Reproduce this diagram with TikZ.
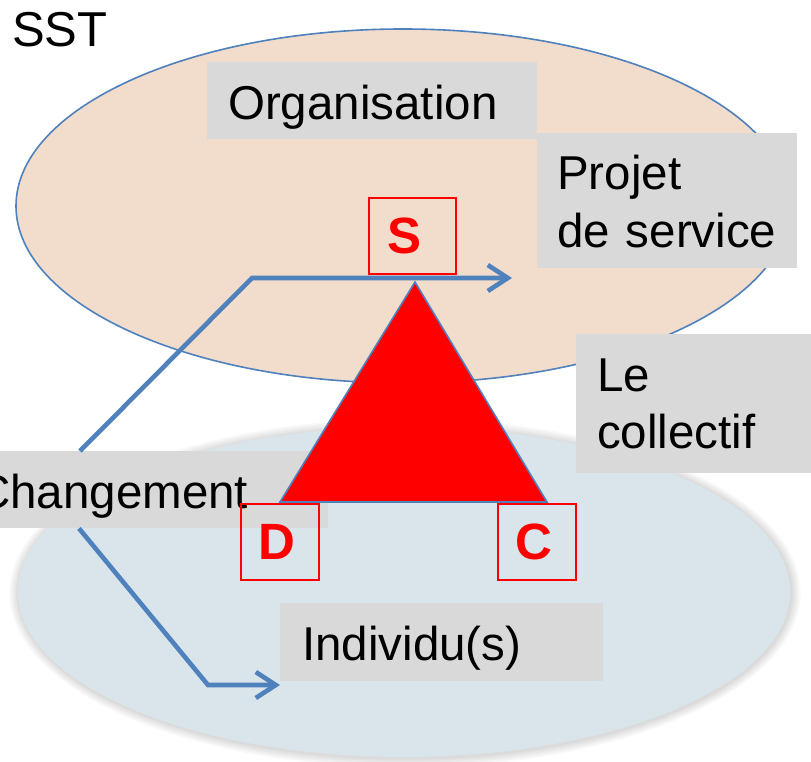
\documentclass[tikz,border=0pt]{standalone}
\usepackage{fontspec}
\setmainfont{Liberation Sans}
\usetikzlibrary{arrows.meta,calc}
\definecolor{peach}{HTML}{F2DCCB}
\definecolor{paleblue}{HTML}{DAE5EB}
\definecolor{boxgray}{HTML}{D9D9D9}
\definecolor{lineblue}{HTML}{4F81BD}
\definecolor{pptred}{HTML}{FF0000}
\begin{document}
\begin{tikzpicture}[x=1pt,y=-1pt,
  graybox/.style={fill=boxgray, anchor=north west, inner ysep=0pt, align=left, text=black},
  bigtext/.style={font=\fontsize{47.5}{#1}\selectfont},
  letterbox/.style={draw=pptred, line width=2pt, text=pptred, inner sep=0pt,
    font=\fontsize{51}{60}\selectfont\bfseries},
  flow/.style={draw=lineblue, line width=4.6pt, -{Straight Barb[length=20pt,width=26pt]}},
  orgellipse/.style={fill=peach, draw=lineblue, line width=1.6pt},
  indellipse/.style={fill=paleblue}]
\useasboundingbox (0,0) rectangle (811,762);
\clip (0,0) rectangle (811,762);
\fill[white] (0,0) rectangle (811,762);

% ellipses
\path[orgellipse] (403,206) ellipse [x radius=387, y radius=177];
\foreach \i in {1,...,6}
  \fill[black, opacity=0.022] (405,593) ellipse [x radius=386+1.6*\i, y radius=165+1.6*\i];
\path[indellipse] (404,592) ellipse [x radius=386, y radius=165];

% grey labels
\node[graybox, bigtext=57.5, inner xsep=21pt, text width=288pt, text height=57pt, text depth=20pt]
  (org) at (207,62) {Organisation};
\node[graybox, bigtext=58, inner xsep=20pt, text width=220pt, text height=56pt, text depth=79pt]
  (proj) at (537,133) {Projet\\\mbox{de service}};
\node[graybox, bigtext=57, inner xsep=21pt, text width=208pt, text height=57pt, text depth=82pt]
  (coll) at (576,334) {Le\\collectif};
\node[graybox, bigtext=57.5, inner xsep=20pt, text width=332pt, text height=57pt, text depth=20pt]
  (chg) at (-44,451) {Changement};
\node[graybox, bigtext=57.5, inner xsep=22pt, text width=279pt, text height=57pt, text depth=21pt]
  (ind) at (280,603) {Individu(s)};

% triangle
\coordinate (apex) at (415,282);
\coordinate (baseR) at (547,502);
\coordinate (baseL) at (280,502);
\fill[pptred] (apex) -- (baseR) -- (baseL) -- cycle;
\draw[lineblue, line width=1.6pt, line join=miter] (apex) -- (baseR) -- (baseL) -- cycle;

% arrows
\coordinate (bendU) at (252,278);
\coordinate (tipU) at (512,277);
\coordinate (bendL) at (208,685);
\draw[flow] ($(chg.north west)+(124,0)$) -- (bendU) -- (bendU -| tipU);
\draw[flow] ($(chg.south west)+(123,0)$) -- (bendL) -- (ind.west |- bendL);

% red letter boxes
\node[letterbox, minimum width=87pt, minimum height=76pt] (S) at (412.5,236) {\kern-16pt S};
\node[letterbox, minimum width=78pt, minimum height=76pt] (D) at (280,542) {\kern-6pt D};
\node[letterbox, minimum width=78pt, minimum height=76pt] (C) at (537,542) {\kern-6pt C};

% title
\node[anchor=base west, inner sep=0pt, font=\fontsize{49}{58}\selectfont] (sst) at (12,47) {SST};
\end{tikzpicture}
\end{document}
